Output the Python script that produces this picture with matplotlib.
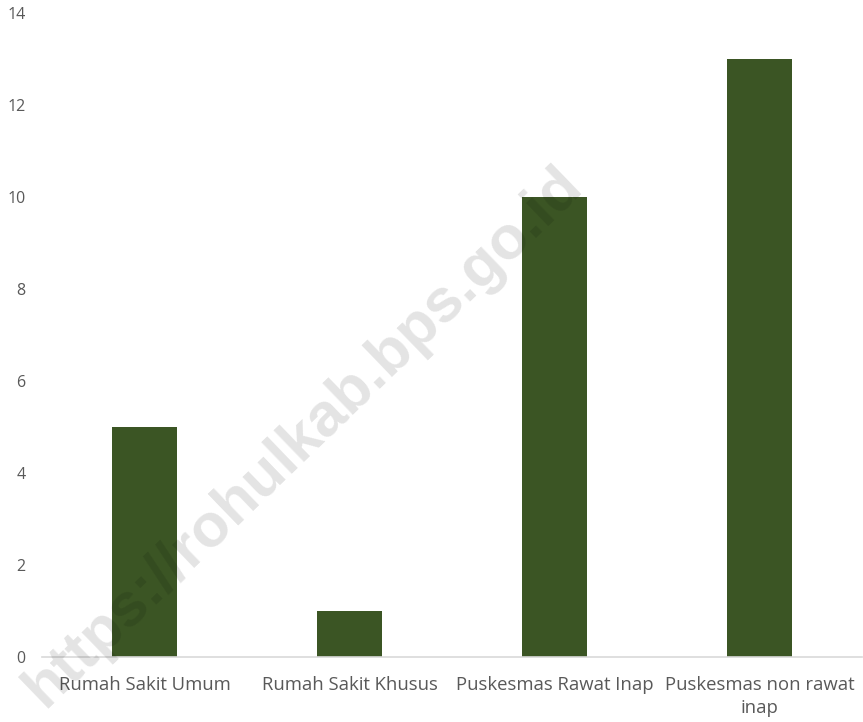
import matplotlib.pyplot as plt

# data
categories = ["Rumah Sakit Umum", "Rumah Sakit Khusus", "Puskesmas Rawat Inap",
              "Puskesmas non rawat\ninap"]
values = [5, 1, 10, 13]
yticks = [0, 2, 4, 6, 8, 10, 12, 14]

BAR_COLOR = "#3B5524"
TEXT_COLOR = "#595959"

plt.rcParams['font.family'] = ['Open Sans', 'DejaVu Sans']

fig = plt.figure(figsize=(8.63, 7.22), dpi=100)
ax = fig.add_axes([0.0487, 0.09, 0.95, 0.892])

x = range(len(categories))
ax.bar(x, values, width=0.317, color=BAR_COLOR, zorder=2)

ax.set_xlim(-0.5, len(categories) - 0.5)
ax.set_ylim(0, 14)
ax.set_yticks(yticks)
ax.set_xticks(list(x))
ax.set_xticklabels(categories, fontsize=13.3, color=TEXT_COLOR, linespacing=1.35)
ax.tick_params(axis='y', labelsize=11.5, labelcolor=TEXT_COLOR, length=0, pad=12)
ax.tick_params(axis='x', length=0, pad=14)

for side in ['top', 'right', 'left']:
    ax.spines[side].set_visible(False)
ax.spines['bottom'].set_color('#D9D9D9')
ax.spines['bottom'].set_linewidth(1.2)

# watermark (runs off the bottom-left edge, as in the source)
fig.text(0.352, 0.395, "https://rohulkab.bps.go.id", fontsize=44, fontweight='bold',
         family='Liberation Sans', color='black', alpha=0.11, rotation=44,
         ha='center', va='center', zorder=10)

fig.savefig("out.png", dpi=100)
